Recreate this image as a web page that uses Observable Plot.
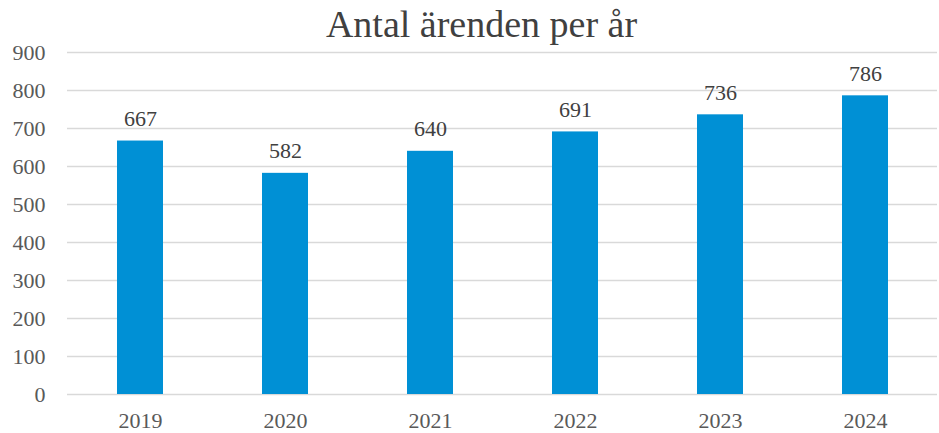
<!DOCTYPE html>
<html>
<head>
<meta charset="utf-8">
<script src="https://cdn.jsdelivr.net/npm/d3@7"></script>
<script src="https://cdn.jsdelivr.net/npm/@observablehq/plot@0.6"></script>
<style>
  body { margin: 0; background: #fff; }
  #wrap { position: relative; width: 939px; height: 433px; }
  #title { position: absolute; left: 12px; top: 2px; width: 939px; text-align: center;
           font-family: "Liberation Serif", "Times New Roman", serif; font-size: 38px; color: #404040; z-index: 2; }
</style>
</head>
<body>
<div id="wrap"><div id="title">Antal ärenden per år</div></div>
<script>
const years = ["2019", "2020", "2021", "2022", "2023", "2024"];
const counts = [667, 582, 640, 691, 736, 786];
const yTicks = [0, 100, 200, 300, 400, 500, 600, 700, 800, 900];

const data = years.map((y, i) => ({year: y, value: counts[i]}));
const serif = "Liberation Serif";

const chart = Plot.plot({
  width: 939,
  height: 433,
  marginTop: 52,
  marginBottom: 39,
  marginLeft: 67,
  marginRight: 2,
  style: {fontFamily: serif, fontSize: "22px", color: "#595959", background: "#fff"},
  x: {domain: years, paddingInner: 0.683, paddingOuter: 0.33, label: null},
  y: {domain: [0, 900], label: null},
  marks: [
    Plot.gridY(yTicks, {stroke: "#d9d9d9", strokeOpacity: 1, strokeWidth: 1.5}),
    Plot.barY(data, {x: "year", y: "value", fill: "#0090d5"}),
    Plot.text(data, {x: "year", y: "value", text: d => String(d.value), dy: -22, fill: "#404040", fontSize: 22, fontFamily: serif}),
    Plot.axisY(yTicks, {tickSize: 0, tickPadding: 22, fontSize: 22, fontFamily: serif, label: null}),
    Plot.axisX({tickSize: 0, tickPadding: 18, fontSize: 22, fontFamily: serif, label: null})
  ]
});
chart.style.position = "absolute";
chart.style.left = "0";
chart.style.top = "0";
document.getElementById("wrap").appendChild(chart);
</script>
</body>
</html>
